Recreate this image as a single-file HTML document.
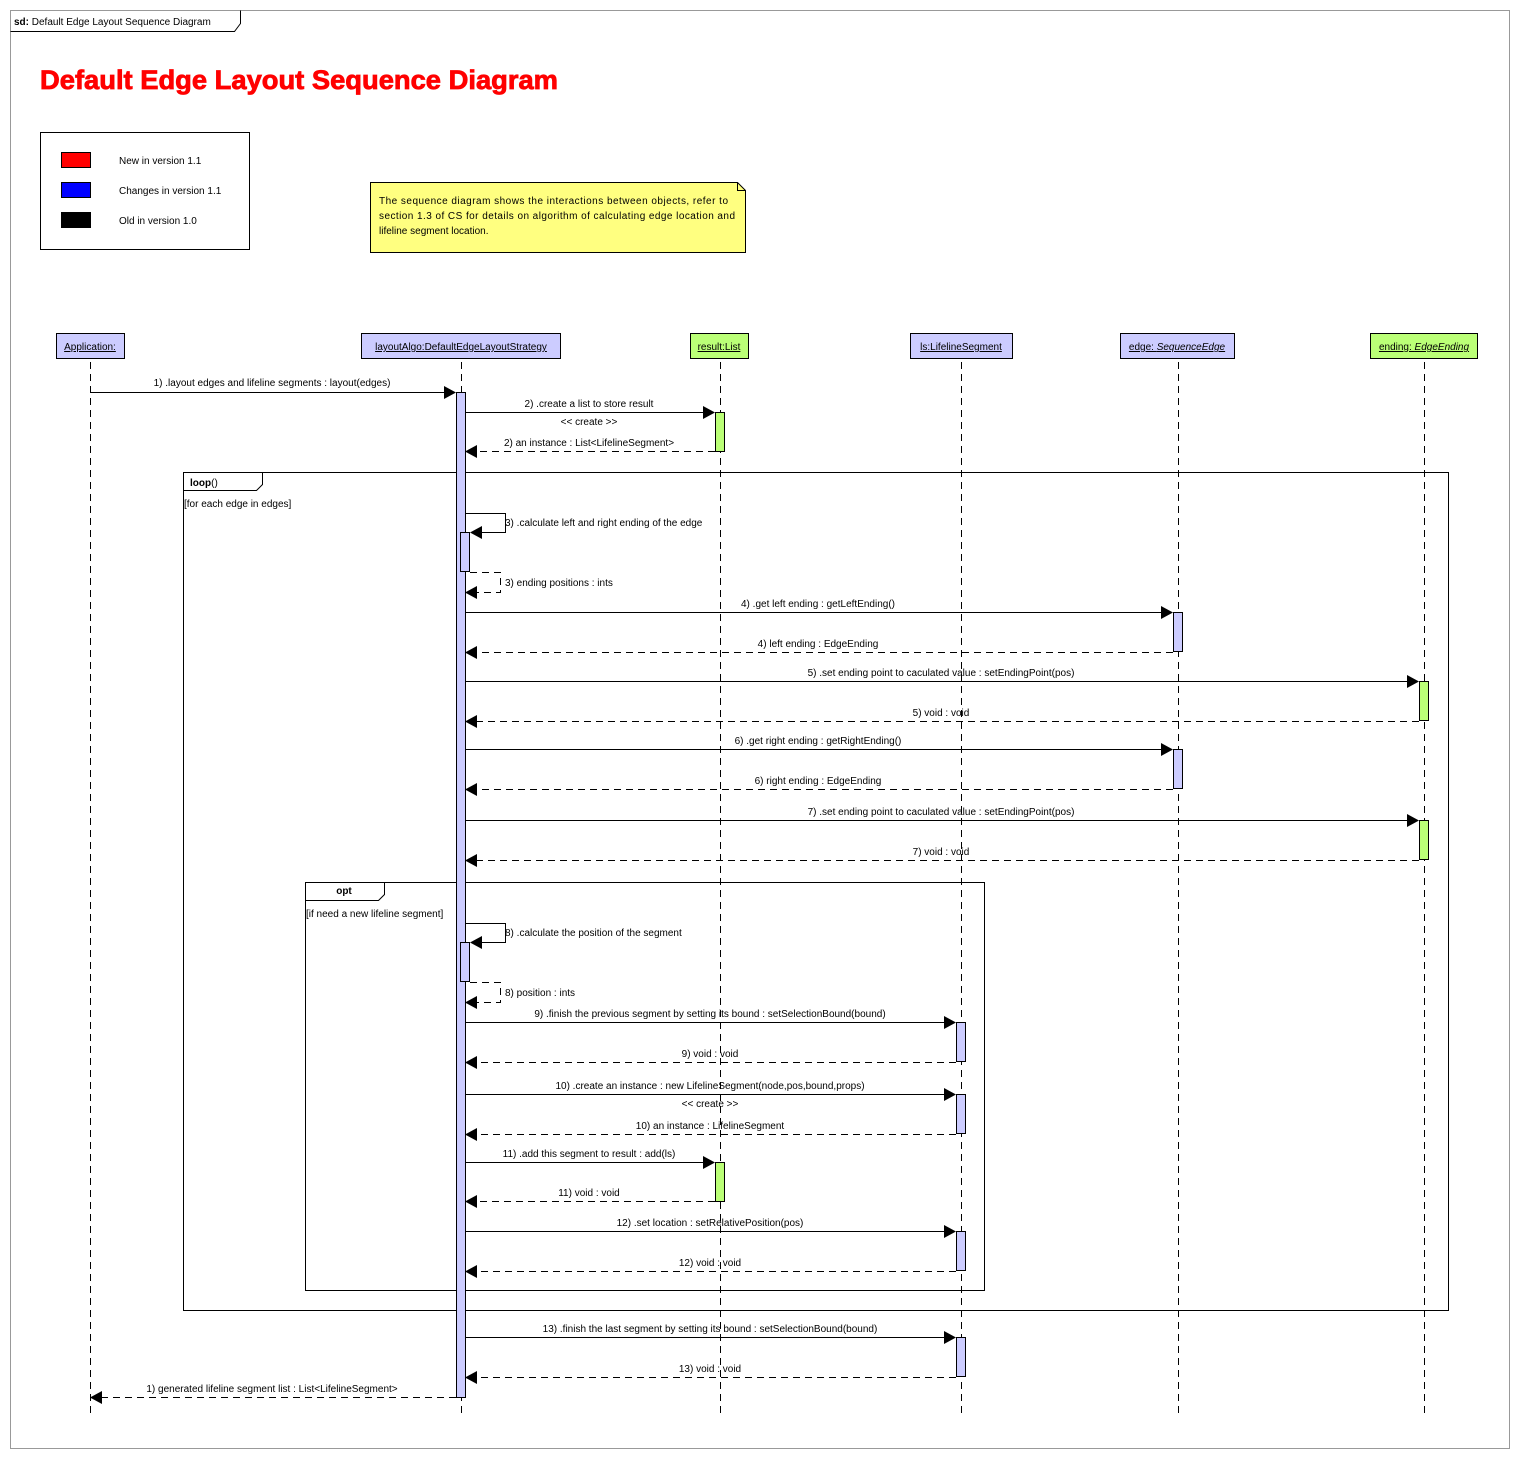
<!DOCTYPE html>
<html><head><meta charset="utf-8"><style>
html,body{margin:0;padding:0;background:#fff;}
svg{display:block;}
text{font-family:"Liberation Sans",Arial,sans-serif;font-size:10px;fill:#000;}
.ll{stroke:#000;stroke-width:1;stroke-dasharray:7,5;}
.m{stroke:#000;stroke-width:1;fill:none;}
.r{stroke:#000;stroke-width:1;fill:none;stroke-dasharray:7,5;}
.ab{fill:#ccccff;stroke:#000;stroke-width:1;}
.ag{fill:#bbff77;stroke:#000;stroke-width:1;}
</style></head><body>
<svg width="1519" height="1458" viewBox="0 0 1519 1458" xmlns="http://www.w3.org/2000/svg">
<rect x="10.5" y="10.5" width="1499" height="1438" fill="#fff" stroke="#999"/>
<path d="M10.5 31.5 H234.5 L240.5 23.5 V10.5" fill="none" stroke="#000"/>
<text x="14" y="25"><tspan font-weight="bold">sd:</tspan> Default Edge Layout Sequence Diagram</text>
<text x="40" y="89" textLength="518" lengthAdjust="spacingAndGlyphs" style="font-size:27px;font-weight:bold;fill:#ff0000;stroke:#ff0000;stroke-width:0.8">Default Edge Layout Sequence Diagram</text>

<rect x="40.5" y="132.5" width="209" height="117" fill="#fff" stroke="#000"/>
<rect x="61.5" y="152.5" width="29" height="15" fill="#ff0000" stroke="#000"/>
<rect x="61.5" y="182.5" width="29" height="15" fill="#0000ff" stroke="#000"/>
<rect x="61.5" y="212.5" width="29" height="15" fill="#000" stroke="#000"/>
<text x="119" y="164">New in version 1.1</text>
<text x="119" y="194">Changes in version 1.1</text>
<text x="119" y="224">Old in version 1.0</text>

<path d="M370.5 182.5 H737.5 L745.5 190.5 V252.5 H370.5 Z" fill="#ffff80" stroke="#000"/>
<path d="M737.5 182.5 V190.5 H745.5" fill="none" stroke="#000"/>
<text x="379" y="204" textLength="349">The sequence diagram  shows the interactions between objects, refer to</text>
<text x="379" y="219" textLength="356">section 1.3 of CS  for details on algorithm of calculating edge location and</text>
<text x="379" y="234">lifeline segment location.</text>

<rect x="56.5" y="333.5" width="68" height="25" fill="#ccccff" stroke="#000"/>
<text x="90" y="350" text-anchor="middle" text-decoration="underline">Application:</text>
<rect x="361.5" y="333.5" width="199" height="25" fill="#ccccff" stroke="#000"/>
<text x="461" y="350" text-anchor="middle" text-decoration="underline">layoutAlgo:DefaultEdgeLayoutStrategy</text>
<rect x="690.5" y="333.5" width="58" height="25" fill="#bbff77" stroke="#000"/>
<text x="719" y="350" text-anchor="middle" text-decoration="underline">result:List</text>
<rect x="910.5" y="333.5" width="102" height="25" fill="#ccccff" stroke="#000"/>
<text x="961" y="350" text-anchor="middle" text-decoration="underline">ls:LifelineSegment</text>
<rect x="1120.5" y="333.5" width="114" height="25" fill="#ccccff" stroke="#000"/>
<text x="1177" y="350" text-anchor="middle" text-decoration="underline">edge: <tspan font-style="italic">SequenceEdge</tspan></text>
<rect x="1370.5" y="333.5" width="107" height="25" fill="#bbff77" stroke="#000"/>
<text x="1424" y="350" text-anchor="middle" text-decoration="underline">ending: <tspan font-style="italic">EdgeEnding</tspan></text>

<line class="ll" x1="90.5" y1="362" x2="90.5" y2="1417"/>
<line class="ll" x1="461.5" y1="362" x2="461.5" y2="1417"/>
<line class="ll" x1="720.5" y1="362" x2="720.5" y2="1417"/>
<line class="ll" x1="961.5" y1="362" x2="961.5" y2="1417"/>
<line class="ll" x1="1178.5" y1="362" x2="1178.5" y2="1417"/>
<line class="ll" x1="1424.5" y1="362" x2="1424.5" y2="1417"/>

<rect x="183.5" y="472.5" width="1265" height="838" fill="none" stroke="#000"/>
<path d="M183.5 490.5 H256.5 L262.5 484.5 V472.5" fill="none" stroke="#000"/>
<text x="190" y="486"><tspan font-weight="bold">loop</tspan>()</text>
<text x="184" y="507">[for each edge in edges]</text>
<rect x="305.5" y="882.5" width="679" height="408" fill="none" stroke="#000"/>
<path d="M305.5 900.5 H378.5 L384.5 894.5 V882.5" fill="none" stroke="#000"/>
<text x="344" y="894" text-anchor="middle" font-weight="bold">opt</text>
<text x="306" y="917">[if need a new lifeline segment]</text>

<rect class="ab" x="456.5" y="392.5" width="9" height="1005"/>

<rect class="ag" x="715.5" y="412.5" width="9" height="39"/>
<rect class="ab" x="460.5" y="532.5" width="9" height="39"/>
<rect class="ab" x="1173.5" y="612.5" width="9" height="39"/>
<rect class="ag" x="1419.5" y="681.5" width="9" height="39"/>
<rect class="ab" x="1173.5" y="749.5" width="9" height="39"/>
<rect class="ag" x="1419.5" y="820.5" width="9" height="39"/>
<rect class="ab" x="460.5" y="942.5" width="9" height="39"/>
<rect class="ab" x="956.5" y="1022.5" width="9" height="39"/>
<rect class="ab" x="956.5" y="1094.5" width="9" height="39"/>
<rect class="ag" x="715.5" y="1162.5" width="9" height="39"/>
<rect class="ab" x="956.5" y="1231.5" width="9" height="39"/>
<rect class="ab" x="956.5" y="1337.5" width="9" height="39"/>

<line class="m" x1="90" y1="392.5" x2="446" y2="392.5"/><polygon points="444,386 456,392.5 444,399"/>
<text x="272" y="386" text-anchor="middle">1) .layout edges and lifeline segments : layout(edges)</text>

<line class="m" x1="465" y1="412.5" x2="705" y2="412.5"/><polygon points="703,406 715,412.5 703,419"/>
<text x="589" y="407" text-anchor="middle">2) .create a list to store result</text>
<text x="589" y="425" text-anchor="middle">&lt;&lt; create &gt;&gt;</text>
<line class="r" x1="715" y1="451.5" x2="475" y2="451.5"/><polygon points="477,445 465,451.5 477,458"/>
<text x="589" y="446" text-anchor="middle">2) an instance : List&lt;LifelineSegment&gt;</text>

<polyline class="m" points="465,513.5 505.5,513.5 505.5,532.5 480,532.5"/><polygon points="482,526 470,532.5 482,539"/>
<text x="505" y="526">3) .calculate left and right ending of the edge</text>
<polyline class="r" points="470,572.5 500.5,572.5 500.5,592.5 477,592.5"/><polygon points="477,586 465,592.5 477,599"/>
<text x="505" y="586">3) ending positions : ints</text>

<line class="m" x1="465" y1="612.5" x2="1163" y2="612.5"/><polygon points="1161,606 1173,612.5 1161,619"/>
<text x="818" y="607" text-anchor="middle">4) .get left ending : getLeftEnding()</text>
<line class="r" x1="1173" y1="652.5" x2="475" y2="652.5"/><polygon points="477,646 465,652.5 477,659"/>
<text x="818" y="647" text-anchor="middle">4) left ending : EdgeEnding</text>

<line class="m" x1="465" y1="681.5" x2="1409" y2="681.5"/><polygon points="1407,675 1419,681.5 1407,688"/>
<text x="941" y="676" text-anchor="middle">5) .set ending point to caculated value : setEndingPoint(pos)</text>
<line class="r" x1="1419" y1="721.5" x2="475" y2="721.5"/><polygon points="477,715 465,721.5 477,728"/>
<text x="941" y="716" text-anchor="middle">5) void : void</text>

<line class="m" x1="465" y1="749.5" x2="1163" y2="749.5"/><polygon points="1161,743 1173,749.5 1161,756"/>
<text x="818" y="744" text-anchor="middle">6) .get right ending : getRightEnding()</text>
<line class="r" x1="1173" y1="789.5" x2="475" y2="789.5"/><polygon points="477,783 465,789.5 477,796"/>
<text x="818" y="784" text-anchor="middle">6) right ending : EdgeEnding</text>

<line class="m" x1="465" y1="820.5" x2="1409" y2="820.5"/><polygon points="1407,814 1419,820.5 1407,827"/>
<text x="941" y="815" text-anchor="middle">7) .set ending point to caculated value : setEndingPoint(pos)</text>
<line class="r" x1="1419" y1="860.5" x2="475" y2="860.5"/><polygon points="477,854 465,860.5 477,867"/>
<text x="941" y="855" text-anchor="middle">7) void : void</text>

<polyline class="m" points="465,923.5 505.5,923.5 505.5,942.5 480,942.5"/><polygon points="482,936 470,942.5 482,949"/>
<text x="505" y="936">8) .calculate the position of the segment</text>
<polyline class="r" points="470,982.5 500.5,982.5 500.5,1002.5 477,1002.5"/><polygon points="477,996 465,1002.5 477,1009"/>
<text x="505" y="996">8) position : ints</text>

<line class="m" x1="465" y1="1022.5" x2="946" y2="1022.5"/><polygon points="944,1016 956,1022.5 944,1029"/>
<text x="710" y="1017" text-anchor="middle">9) .finish the previous segment by setting its bound : setSelectionBound(bound)</text>
<line class="r" x1="956" y1="1062.5" x2="475" y2="1062.5"/><polygon points="477,1056 465,1062.5 477,1069"/>
<text x="710" y="1057" text-anchor="middle">9) void : void</text>

<line class="m" x1="465" y1="1094.5" x2="946" y2="1094.5"/><polygon points="944,1088 956,1094.5 944,1101"/>
<text x="710" y="1089" text-anchor="middle">10) .create an instance : new LifelineSegment(node,pos,bound,props)</text>
<text x="710" y="1107" text-anchor="middle">&lt;&lt; create &gt;&gt;</text>
<line class="r" x1="956" y1="1134.5" x2="475" y2="1134.5"/><polygon points="477,1128 465,1134.5 477,1141"/>
<text x="710" y="1129" text-anchor="middle">10) an instance : LifelineSegment</text>

<line class="m" x1="465" y1="1162.5" x2="705" y2="1162.5"/><polygon points="703,1156 715,1162.5 703,1169"/>
<text x="589" y="1157" text-anchor="middle">11) .add this segment to result : add(ls)</text>
<line class="r" x1="715" y1="1201.5" x2="475" y2="1201.5"/><polygon points="477,1195 465,1201.5 477,1208"/>
<text x="589" y="1196" text-anchor="middle">11) void : void</text>

<line class="m" x1="465" y1="1231.5" x2="946" y2="1231.5"/><polygon points="944,1225 956,1231.5 944,1238"/>
<text x="710" y="1226" text-anchor="middle">12) .set location : setRelativePosition(pos)</text>
<line class="r" x1="956" y1="1271.5" x2="475" y2="1271.5"/><polygon points="477,1265 465,1271.5 477,1278"/>
<text x="710" y="1266" text-anchor="middle">12) void : void</text>

<line class="m" x1="465" y1="1337.5" x2="946" y2="1337.5"/><polygon points="944,1331 956,1337.5 944,1344"/>
<text x="710" y="1332" text-anchor="middle">13) .finish the last segment by setting its bound : setSelectionBound(bound)</text>
<line class="r" x1="956" y1="1377.5" x2="475" y2="1377.5"/><polygon points="477,1371 465,1377.5 477,1384"/>
<text x="710" y="1372" text-anchor="middle">13) void : void</text>

<line class="r" x1="456" y1="1397.5" x2="100" y2="1397.5"/><polygon points="102,1391 90,1397.5 102,1404"/>
<text x="272" y="1392" text-anchor="middle">1) generated lifeline segment list : List&lt;LifelineSegment&gt;</text>
</svg>
</body></html>
